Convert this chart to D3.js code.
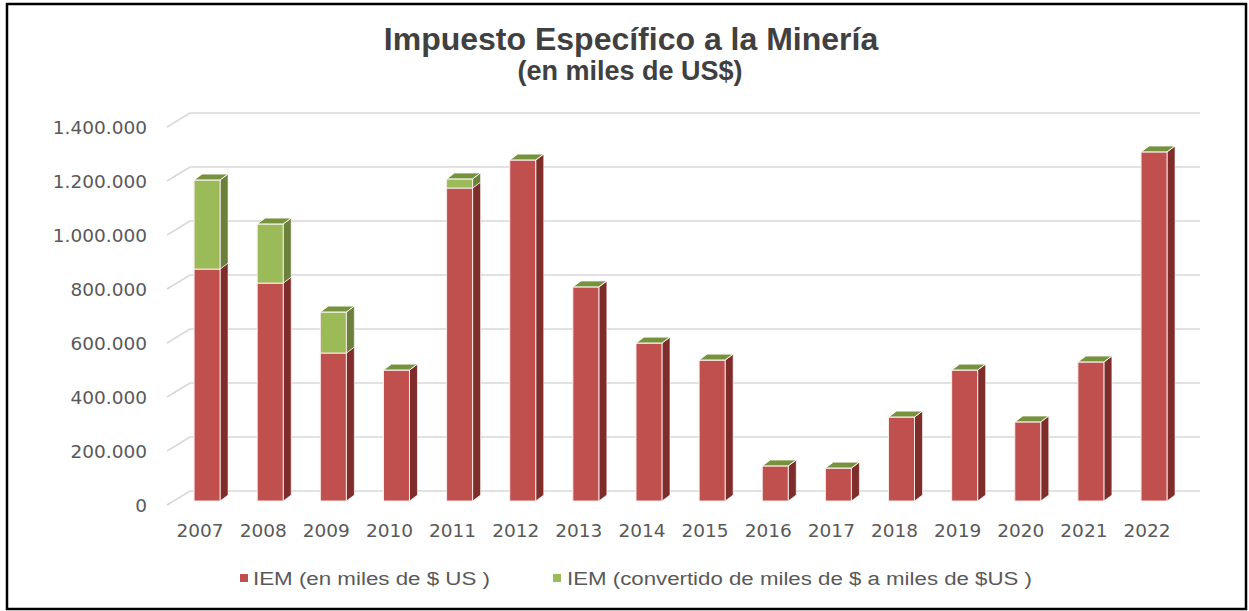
<!DOCTYPE html>
<html>
<head>
<meta charset="utf-8">
<script src="https://cdn.jsdelivr.net/npm/d3@7"></script>
<style>
  body { margin: 0; background: #fff; }
  svg { display: block; }
</style>
</head>
<body>
<svg width="1249" height="611"></svg>
<script>
var years = ["2007","2008","2009","2010","2011","2012","2013","2014","2015","2016","2017","2018","2019","2020","2021","2022"];
// IEM (en miles de $ US)
var iemUS = [859000, 807000, 548000, 485000, 1159000, 1263000, 793000, 585000, 522000, 130000, 122000, 311000, 485000, 293000, 515000, 1293000];
// IEM (convertido de miles de $ a miles de $US)
var iemConv = [330000, 219000, 152000, 0, 34000, 0, 0, 0, 0, 0, 0, 0, 0, 0, 0, 0];
var yTicks = [0, 200000, 400000, 600000, 800000, 1000000, 1200000, 1400000];
var seriesNames = ["IEM (en miles de $ US  )", "IEM (convertido de miles de $ a miles de $US )"];

var svg = d3.select("svg"),
    width = +svg.attr("width"),
    height = +svg.attr("height");

var depth = {x: 8, y: -6};      // bar depth
var wall = {x: 23, y: -14};     // floor depth
var barW = 26;

var x = d3.scaleBand().domain(years).range([175.5, 1185.6]);
var y = d3.scaleLinear().domain([0, 1400000]).range([501, 123]);

var fmt = function(v) { return d3.format(",")(v).replace(/,/g, "."); };

// title
svg.append("text")
    .attr("x", 631).attr("y", 50)
    .attr("text-anchor", "middle")
    .style("font-family", "'Liberation Sans', Arial, sans-serif")
    .style("font-weight", "bold")
    .style("font-size", "32px")
    .style("fill", "#404040")
    .text("Impuesto Específico a la Minería");

svg.append("text")
    .attr("x", 630).attr("y", 80)
    .attr("text-anchor", "middle")
    .style("font-family", "'Liberation Sans', Arial, sans-serif")
    .style("font-weight", "bold")
    .style("font-size", "27px")
    .style("fill", "#404040")
    .text("(en miles de US$)");

// gridlines on the back wall + diagonal on the side wall
var grid = svg.append("g").attr("class", "grid")
    .style("stroke", "#d9d9d9")
    .style("stroke-width", 1.6)
    .style("fill", "none");

grid.selectAll("path")
  .data(yTicks)
  .enter().append("path")
    .attr("d", function(d) {
      var fy = y(d) + 4;
      return "M167," + fy + "L190," + (fy + wall.y) + "L1200," + (fy + wall.y);
    });

// y axis labels
svg.append("g")
    .selectAll("text")
    .data(yTicks)
    .enter().append("text")
    .attr("x", 147)
    .attr("y", function(d) { return y(d) + 11; })
    .attr("text-anchor", "end")
    .style("font-family", "'DejaVu Sans', Verdana, sans-serif")
    .style("font-size", "18.5px")
    .style("fill", "#595959")
    .text(fmt);

// bars
var colors = {
  red:   {front: "#c0504d", side: "#7f2d2b", top: "#9a3c39"},
  green: {front: "#9bbb59", side: "#6a803b", top: "#76923c"}
};

function barFront(g, x0, y0, y1, c) {
  g.append("rect")
      .attr("x", x0).attr("y", y1)
      .attr("width", barW).attr("height", Math.max(0, y0 - y1))
      .style("fill", c.front)
      .style("stroke", "#fbeaea")
      .style("stroke-width", 1);
}
function barSide(g, x0, y0, y1, c) {
  var xr = x0 + barW;
  g.append("path")
      .attr("d", "M" + xr + "," + y0 + "L" + (xr + depth.x) + "," + (y0 + depth.y) +
                 "L" + (xr + depth.x) + "," + (y1 + depth.y) + "L" + xr + "," + y1 + "Z")
      .style("fill", c.side)
      .style("stroke", "#fff")
      .style("stroke-width", 0.6);
}
function barTop(g, x0, y1, c) {
  g.append("path")
      .attr("d", "M" + x0 + "," + y1 + "L" + (x0 + barW) + "," + y1 +
                 "L" + (x0 + barW + depth.x) + "," + (y1 + depth.y) +
                 "L" + (x0 + depth.x) + "," + (y1 + depth.y) + "Z")
      .style("fill", c.top)
      .style("stroke", "#fff")
      .style("stroke-width", 1);
}

var bars = svg.append("g").attr("class", "bars");

years.forEach(function(yr, i) {
  var g = bars.append("g");
  var x0 = x(yr) + (x.bandwidth() - barW) / 2;
  var yBase = y(0), yRed = y(iemUS[i]), yTot = y(iemUS[i] + iemConv[i]);
  barSide(g, x0, yBase, yRed, colors.red);
  barFront(g, x0, yBase, yRed, colors.red);
  if (yTot < yRed) {
    barSide(g, x0, yRed, yTot, colors.green);
    barFront(g, x0, yRed, yTot, colors.green);
  }
  barTop(g, x0, yTot, colors.green);
});

// x axis labels
svg.append("g")
    .selectAll("text")
    .data(years)
    .enter().append("text")
    .attr("x", function(d) { return x(d) + x.bandwidth() / 2 - 7; })
    .attr("y", 537)
    .attr("text-anchor", "middle")
    .style("font-family", "'DejaVu Sans', Verdana, sans-serif")
    .style("font-size", "18.5px")
    .style("fill", "#595959")
    .text(function(d) { return d; });

// legend
var legend = svg.append("g").attr("class", "legend");
var legendItems = [
  {name: seriesNames[0], color: colors.red.front, sx: 240, tx: 253, len: 237},
  {name: seriesNames[1], color: colors.green.front, sx: 553, tx: 567, len: 465}
];
legendItems.forEach(function(d) {
  legend.append("rect")
      .attr("x", d.sx).attr("y", 574)
      .attr("width", 8).attr("height", 8)
      .style("fill", d.color);
  legend.append("text")
      .attr("x", d.tx).attr("y", 585)
      .attr("textLength", d.len)
      .attr("lengthAdjust", "spacingAndGlyphs")
      .style("font-family", "'Liberation Sans', Arial, sans-serif")
      .style("font-size", "18px")
      .style("fill", "#595959")
      .text(d.name);
});

// outer frame
svg.append("rect")
    .attr("x", 7).attr("y", 4)
    .attr("width", 1239).attr("height", 605)
    .style("fill", "none")
    .style("stroke", "#000")
    .style("stroke-width", 2.5);
</script>
</body>
</html>
